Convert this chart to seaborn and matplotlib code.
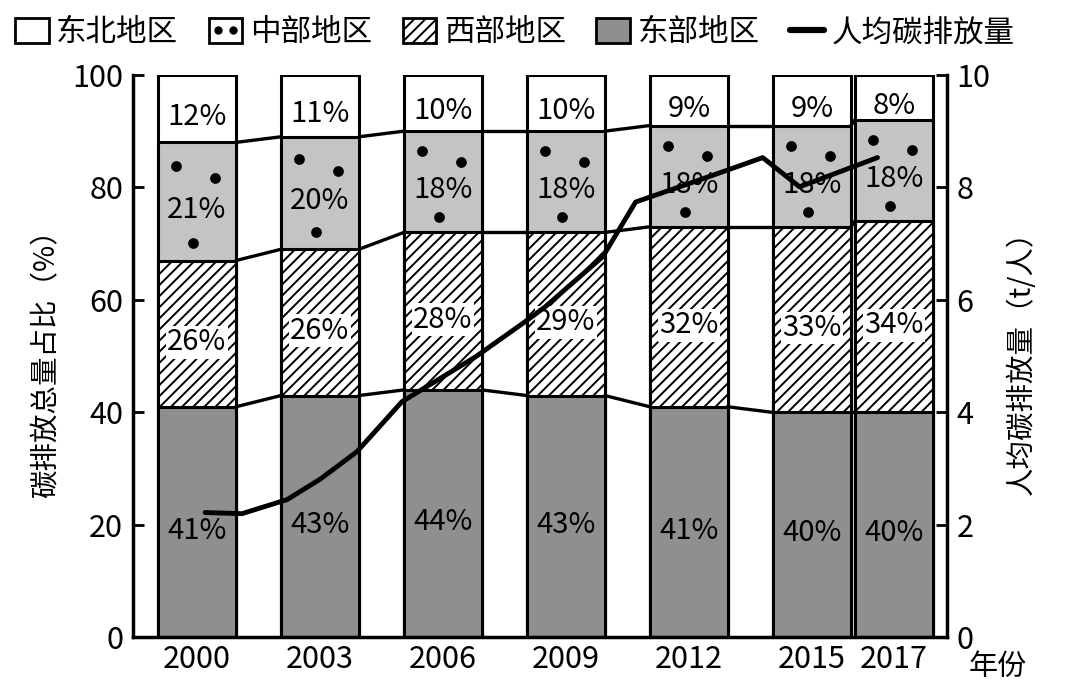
import numpy as np
import pandas as pd
import seaborn as sns
import matplotlib.pyplot as plt
from matplotlib.patches import Patch
from matplotlib.lines import Line2D
from matplotlib.legend_handler import HandlerLine2D

# shares of total carbon emission (%)
years = [2000, 2003, 2006, 2009, 2012, 2015, 2017]
east = [41, 43, 44, 43, 41, 40, 40]
west = [26, 26, 28, 29, 32, 33, 34]
central = [21, 20, 18, 18, 18, 18, 18]
northeast = [12, 11, 10, 10, 9, 9, 8]

# per-capita emission line (t/person)
line_years = [2000.2, 2001.1, 2002.2, 2003.0, 2003.9, 2005.0, 2006.8, 2008.0,
              2008.5, 2009.9, 2010.7, 2012.6, 2013.8, 2014.7, 2016.6]
line_values = [2.22, 2.20, 2.45, 2.81, 3.30, 4.19, 4.99, 5.61,
               5.88, 6.77, 7.74, 8.22, 8.53, 8.01, 8.53]

legend_labels = ['东北地区', '中部地区', '西部地区', '东部地区', '人均碳排放量']

sns.set_theme(style='ticks', rc={'axes.edgecolor': 'black', 'text.color': 'black',
                                 'xtick.color': 'black', 'ytick.color': 'black',
                                 'axes.labelcolor': 'black'})
plt.rcParams['font.family'] = ['Noto Sans CJK SC', 'DejaVu Sans']
plt.rcParams['hatch.linewidth'] = 1.4

fig = plt.figure(figsize=(10.68, 6.81), dpi=100)
ax = fig.add_axes([0.1245, 0.064, 0.762, 0.826])

df = pd.DataFrame({'year': years, 'east': east, 'west': west,
                   'central': central, 'northeast': northeast})
df['c1'] = df['east']
df['c2'] = df['c1'] + df['west']
df['c3'] = df['c2'] + df['central']
df['c4'] = df['c3'] + df['northeast']

hw = 0.95  # half bar width in years
layers = [('c4', 'white', ''), ('c3', '#c4c4c4', ''),
          ('c2', 'white', '///'), ('c1', '#8f8f8f', '')]
for col, fc, hatch in layers:
    sns.barplot(data=df, x='year', y=col, native_scale=True, width=hw,
                color=fc, saturation=1, hatch=hatch, edgecolor='black',
                linewidth=2.2, errorbar=None, ax=ax)

# dots in the central segments
dot_dx = [-0.5, 0.45, -0.1]
dot_fy = [0.8, 0.7, 0.15]
for i, yr in enumerate(years):
    for dx, fy in zip(dot_dx, dot_fy):
        ax.scatter(yr + dx, df['c2'][i] + fy * central[i], s=45, color='black', zorder=5)

# connecting lines between bars
for col in ['c1', 'c2', 'c3']:
    for i in range(len(years) - 1):
        ax.plot([years[i] + hw, years[i + 1] - hw], [df[col][i], df[col][i + 1]],
                color='black', lw=2.4)

# percentage labels
segs = [('east', None, None), ('west', 'c1', 'white'),
        ('central', 'c2', None), ('northeast', 'c3', None)]
for name, base, bg in segs:
    for i, yr in enumerate(years):
        h = df[name][i]
        b = 0 if base is None else df[base][i]
        kw = {}
        if bg:
            kw['bbox'] = dict(facecolor='white', edgecolor='none', pad=1)
        ax.text(yr, b + h / 2 - 1.5, f'{h}%', ha='center', va='center',
                fontsize=21, zorder=6, **kw)

ax.set_xlim(1998.44, 2018.29)
ax.set_ylim(0, 100)
ax.set_xticks(years)
ax.set_xticklabels([str(y) for y in years])
ax.set_yticks(range(0, 101, 20))
ax.set_xlabel('')
ax.set_ylabel('碳排放总量占比（%）', fontsize=20.5, labelpad=8)
ax.tick_params(axis='both', direction='in', length=8, width=2, labelsize=22, pad=7)
ax.tick_params(axis='x', pad=5)
for s in ['left', 'bottom']:
    ax.spines[s].set_linewidth(2.5)
ax.spines['top'].set_visible(False)
ax.spines['right'].set_visible(False)

ax2 = ax.twinx()
sns.lineplot(x=line_years, y=line_values, ax=ax2, color='black', lw=3.5, sort=False)
ax2.set_ylim(0, 10)
ax2.set_yticks(range(0, 11, 2))
ax2.set_ylabel('人均碳排放量（t/人）', fontsize=20.5, labelpad=12)
ax2.tick_params(axis='y', direction='in', length=8, width=2, labelsize=22, pad=7)
ax2.spines['right'].set_linewidth(2.5)
ax2.spines['top'].set_visible(False)
ax2.spines['left'].set_visible(False)
ax2.spines['bottom'].set_visible(False)

fig.text(0.934, 0.021, '年份', fontsize=21, ha='center', va='center')

line_handle = Line2D([], [], color='black', lw=4.5)
handles = [
    Patch(facecolor='white', edgecolor='black', lw=2),
    (Patch(facecolor='white', edgecolor='black', lw=2),
     Line2D([], [], marker='o', ls='none', color='black', markersize=5)),
    Patch(facecolor='white', edgecolor='black', lw=2, hatch='///'),
    Patch(facecolor='#8f8f8f', edgecolor='black', lw=2),
    line_handle,
]
fig.legend(handles, legend_labels, loc='upper center', bbox_to_anchor=(0.482, 1.015),
           ncol=5, frameon=False, fontsize=22, handlelength=1.1, handleheight=0.9,
           columnspacing=1.0, handletextpad=0.25, numpoints=2,
           handler_map={line_handle: HandlerLine2D(numpoints=1)})

fig.savefig('out.png', dpi=100)
